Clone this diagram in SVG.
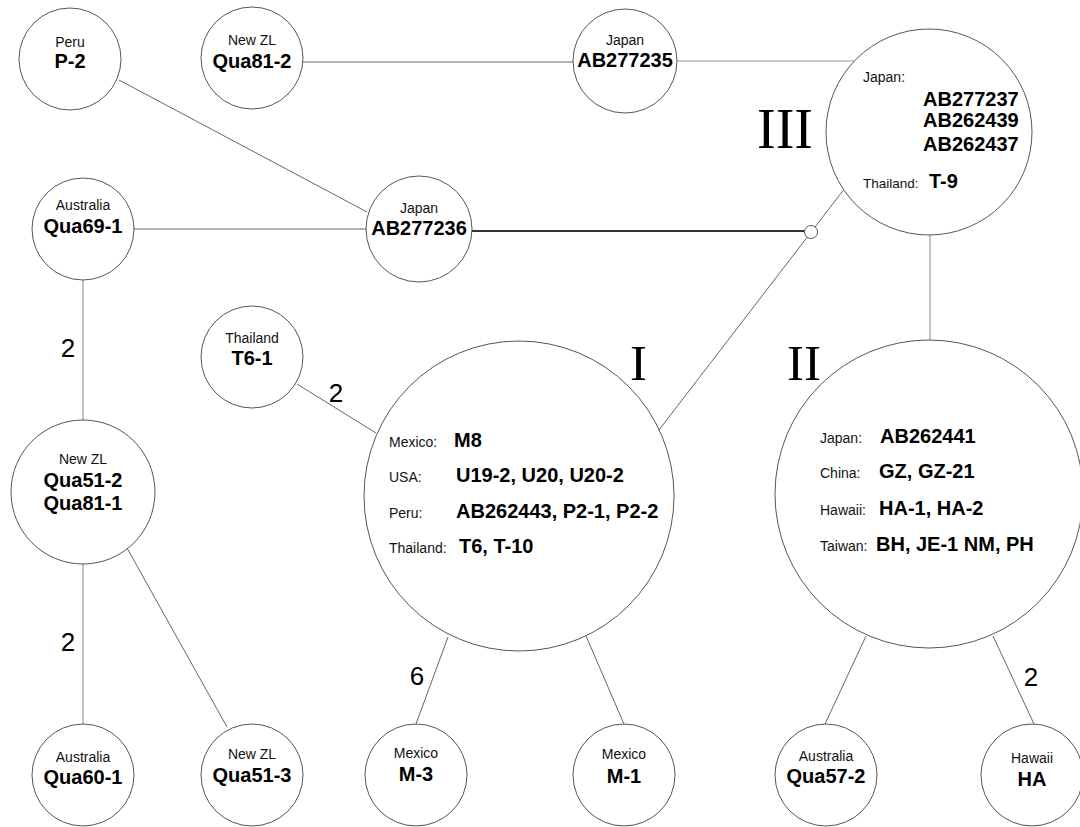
<svg xmlns="http://www.w3.org/2000/svg" width="1080" height="827" viewBox="0 0 1080 827">
<style>
.nd{fill:#fff;stroke:#555;stroke-width:1}
.ln{stroke:#666;stroke-width:1;fill:none}
.lt{stroke:#999;stroke-width:1.2;fill:none}
.th{stroke:#333;stroke-width:2.2;fill:none}
.c{font-family:"Liberation Sans",Arial,sans-serif;font-size:14px;fill:#111}
.b{font-family:"Liberation Sans",Arial,sans-serif;font-size:20px;font-weight:bold;fill:#000}
.m{text-anchor:middle}
.num{font-family:"Liberation Sans",Arial,sans-serif;font-size:26px;fill:#000;text-anchor:middle}
.rom{font-family:"Liberation Serif","Times New Roman",serif;fill:#000}
</style>
<rect width="1080" height="827" fill="#fff"/>
<g id="connectors">
<line class="ln" x1="303" y1="62" x2="573" y2="62"/>
<line class="lt" x1="677" y1="61" x2="854" y2="61"/>
<line class="ln" x1="119" y1="80" x2="367" y2="212"/>
<line class="ln" x1="134" y1="229" x2="366" y2="229"/>
<line class="th" x1="472" y1="231" x2="805" y2="231"/>
<line class="ln" x1="845" y1="188" x2="659" y2="430"/>
<line class="lt" x1="930" y1="235" x2="930" y2="340"/>
<line class="lt" x1="83" y1="280" x2="83" y2="420"/>
<line class="lt" x1="83" y1="564" x2="83" y2="724"/>
<line class="ln" x1="127" y1="548" x2="227" y2="727"/>
<line class="ln" x1="297" y1="384" x2="376" y2="433"/>
<line class="ln" x1="448" y1="637" x2="416" y2="724"/>
<line class="ln" x1="586" y1="636" x2="624" y2="724"/>
<line class="ln" x1="866" y1="636" x2="825" y2="724"/>
<line class="ln" x1="993" y1="636" x2="1034" y2="724"/>
<text class="num" x="68" y="357">2</text>
<text class="num" x="336" y="402">2</text>
<text class="num" x="68" y="651">2</text>
<text class="num" x="417" y="685">6</text>
<text class="num" x="1031" y="686">2</text>
</g>
<g id="n-p2"><circle class="nd" cx="70" cy="59" r="51"/><text class="c m" x="70" y="47">Peru</text><text class="b m" x="70" y="68">P-2</text></g>
<g id="n-qua81-2"><circle class="nd" cx="252" cy="58" r="51"/><text class="c m" x="252" y="45">New ZL</text><text class="b m" x="252" y="68">Qua81-2</text></g>
<g id="n-ab277235"><circle class="nd" cx="625" cy="61" r="52"/><text class="c m" x="625" y="45">Japan</text><text class="b m" x="625" y="67">AB277235</text></g>
<g id="n-iii"><circle class="nd" cx="929" cy="132" r="103"/>
<text class="c" x="863" y="82">Japan:</text>
<text class="b" x="923" y="106">AB277237</text>
<text class="b" x="923" y="127">AB262439</text>
<text class="b" x="923" y="151">AB262437</text>
<text class="c" x="863" y="188" style="font-size:13.5px">Thailand:</text>
<text class="b" x="929" y="188">T-9</text>
<text class="rom" x="757" y="148" style="font-size:56px">III</text></g>
<g id="n-qua69-1"><circle class="nd" cx="83" cy="229" r="51"/><text class="c m" x="83" y="210">Australia</text><text class="b m" x="83" y="233">Qua69-1</text></g>
<g id="n-ab277236"><circle class="nd" cx="419" cy="229" r="53"/><text class="c m" x="419" y="213">Japan</text><text class="b m" x="419" y="235">AB277236</text></g>
<g id="n-median"><circle class="nd" cx="811" cy="232" r="6.5"/></g>
<g id="n-t6-1"><circle class="nd" cx="252" cy="357" r="51"/><text class="c m" x="252" y="343">Thailand</text><text class="b m" x="252" y="365">T6-1</text></g>
<g id="n-i"><circle class="nd" cx="519" cy="496" r="155"/>
<text class="c" x="389" y="447">Mexico:</text><text class="b" x="454" y="447">M8</text>
<text class="c" x="389" y="482">USA:</text><text class="b" x="456" y="482">U19-2, U20, U20-2</text>
<text class="c" x="389" y="518">Peru:</text><text class="b" x="456" y="518">AB262443, P2-1, P2-2</text>
<text class="c" x="389" y="553">Thailand:</text><text class="b" x="459" y="553">T6, T-10</text>
<text class="rom" x="630" y="380" style="font-size:51px">I</text></g>
<g id="n-ii"><circle class="nd" cx="929" cy="494" r="154"/>
<text class="c" x="820" y="443">Japan:</text><text class="b" x="880" y="443">AB262441</text>
<text class="c" x="820" y="478">China:</text><text class="b" x="879" y="478">GZ, GZ-21</text>
<text class="c" x="820" y="515">Hawaii:</text><text class="b" x="879" y="515">HA-1, HA-2</text>
<text class="c" x="820" y="551">Taiwan:</text><text class="b" x="876" y="551">BH, JE-1 NM, PH</text>
<text class="rom" x="787" y="380" style="font-size:51px">II</text></g>
<g id="n-qua51-2"><circle class="nd" cx="83" cy="492" r="72"/><text class="c m" x="83" y="464">New ZL</text><text class="b m" x="83" y="487">Qua51-2</text><text class="b m" x="83" y="510">Qua81-1</text></g>
<g id="n-qua60-1"><circle class="nd" cx="83" cy="775" r="51"/><text class="c m" x="83" y="762">Australia</text><text class="b m" x="83" y="784">Qua60-1</text></g>
<g id="n-qua51-3"><circle class="nd" cx="252" cy="775" r="51"/><text class="c m" x="252" y="759">New ZL</text><text class="b m" x="252" y="782">Qua51-3</text></g>
<g id="n-m-3"><circle class="nd" cx="416" cy="775" r="51"/><text class="c m" x="416" y="758">Mexico</text><text class="b m" x="416" y="781">M-3</text></g>
<g id="n-m-1"><circle class="nd" cx="624" cy="775" r="51"/><text class="c m" x="624" y="759">Mexico</text><text class="b m" x="624" y="783">M-1</text></g>
<g id="n-qua57-2"><circle class="nd" cx="826" cy="775" r="51"/><text class="c m" x="826" y="761">Australia</text><text class="b m" x="826" y="783">Qua57-2</text></g>
<g id="n-ha"><circle class="nd" cx="1032" cy="775" r="51"/><text class="c m" x="1032" y="763">Hawaii</text><text class="b m" x="1032" y="786">HA</text></g>
</svg>
